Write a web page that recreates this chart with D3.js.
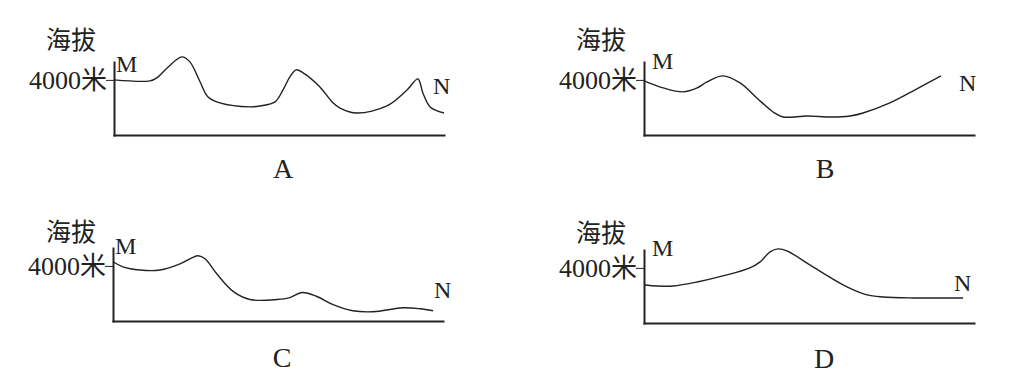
<!DOCTYPE html>
<html>
<head>
<meta charset="utf-8">
<script src="https://cdn.jsdelivr.net/npm/d3@7"></script>
<style>
body { margin: 0; background: #fff; }
svg { display: block; }
</style>
</head>
<body>
<div id="chart"></div>
<script>
// terrain profiles M -> N : [distance along section (0-100), elevation in m]
var profileA = [[0, 4000], [10.9, 3930], [13, 4150], [16.1, 4870], [20.6, 5670], [23, 5310], [26.1, 3850],
    [28.5, 2760], [32.1, 2330], [41.2, 2040], [44.2, 2110], [48.8, 2400], [51.2, 3270], [53.3, 4220],
    [55.2, 4730], [57.3, 4510], [62.4, 3490], [66.1, 2400], [68.5, 1960], [73.6, 1600], [82.7, 2110],
    [88.8, 3270], [92.1, 4070], [93.6, 3050], [95.8, 2040], [100, 1600]];
var profileB = [[0, 3930], [5.8, 3420], [11.8, 3130], [16.1, 3420], [19.1, 3850], [23.9, 4290], [29.1, 3780],
    [34.2, 2690], [39.1, 1670], [42.1, 1310], [49.4, 1380], [56.4, 1310], [62.4, 1380], [66.4, 1600],
    [74.5, 2330], [82.7, 3350], [90, 4290]];
var profileC = [[0, 4300], [3, 3930], [8.2, 3700], [14.2, 3700], [20.3, 4150], [23.9, 4590], [25.8, 4740],
    [27.9, 4520], [31.5, 3410], [36.4, 2150], [41.5, 1560], [49.7, 1560], [53.6, 1700], [57.3, 2070],
    [61.8, 1780], [66.7, 1190], [72.7, 740], [78.8, 670], [87.9, 960], [93, 890], [97, 740]];
var profileD = [[0, 2760], [3.9, 2690], [8.8, 2690], [16.1, 2980], [23.9, 3420], [32.1, 4000], [35.2, 4440],
    [38.2, 5160], [40.6, 5380], [43.3, 5240], [51.2, 4070], [61.5, 2620], [67.6, 2040], [72.4, 1890],
    [81.5, 1820], [96.7, 1820]];

var panelNames = ["A", "B", "C", "D"];
var axisTitle = "海拔";
var tickValues = [4000];
var tickLabel = "4000米";
var endLabels = ["M", "N"];

var ink = "#222";
var serif = "'Liberation Serif', 'Noto Sans CJK SC', serif";
var cjk = "'Noto Sans CJK SC', sans-serif";

var svg = d3.select("#chart").append("svg")
    .attr("width", 1027)
    .attr("height", 392);

var panels = [
    {data: profileA, axisX: 114, bottom: 135, titleX: 46, titleY: 49, mX: 116, mY: 72, nX: 433, nY: 94, nameX: 283, nameY: 178},
    {data: profileB, axisX: 644, bottom: 135, titleX: 576, titleY: 49, mX: 652, mY: 69, nX: 959, nY: 91, nameX: 825, nameY: 178},
    {data: profileC, axisX: 113, bottom: 321, titleX: 46, titleY: 241, mX: 115, mY: 254, nX: 434, nY: 298, nameX: 282, nameY: 367},
    {data: profileD, axisX: 644, bottom: 323, titleX: 576, titleY: 242, mX: 652, mY: 256, nX: 954, nY: 291, nameX: 824, nameY: 368}
];

panels.forEach(function (p, i) {
    var x = d3.scaleLinear().domain([0, 100]).range([p.axisX, p.axisX + 330]);
    var y = d3.scaleLinear().domain([0, 5300]).range([p.bottom, p.bottom - 73]);

    var g = svg.append("g").attr("class", "panel");

    // distance axis (no ticks)
    g.append("g")
        .attr("transform", "translate(0," + p.bottom + ")")
        .call(d3.axisBottom(x).tickValues([]).tickSizeOuter(0));

    // elevation axis, one tick at 4000
    var yAxis = g.append("g")
        .attr("transform", "translate(" + p.axisX + ",0)")
        .call(d3.axisLeft(y)
            .tickValues(tickValues)
            .tickSize(8)
            .tickPadding(-1)
            .tickSizeOuter(0)
            .tickFormat(function () { return tickLabel; }));

    g.selectAll(".domain")
        .attr("stroke", ink)
        .attr("stroke-width", 2)
        .attr("stroke-linecap", "square");
    yAxis.selectAll(".tick line").attr("stroke", ink).attr("stroke-width", 1);
    yAxis.selectAll(".tick text")
        .attr("fill", ink)
        .style("font-family", serif)
        .style("font-size", "26px");

    // profile line
    var line = d3.line()
        .x(function (d) { return x(d[0]); })
        .y(function (d) { return y(d[1]); })
        .curve(d3.curveCatmullRom.alpha(0.5));

    g.append("path")
        .datum(p.data)
        .attr("d", line)
        .attr("fill", "none")
        .attr("stroke", ink)
        .attr("stroke-width", 1.4)
        .attr("stroke-linejoin", "round");

    g.append("text")
        .attr("x", p.titleX)
        .attr("y", p.titleY)
        .style("font-family", cjk)
        .style("font-size", "25px")
        .attr("fill", ink)
        .text(axisTitle);

    g.append("text")
        .attr("x", p.mX)
        .attr("y", p.mY)
        .style("font-family", serif)
        .style("font-size", "24px")
        .attr("fill", ink)
        .text(endLabels[0]);

    g.append("text")
        .attr("x", p.nX)
        .attr("y", p.nY)
        .style("font-family", serif)
        .style("font-size", "24px")
        .attr("fill", ink)
        .text(endLabels[1]);

    g.append("text")
        .attr("x", p.nameX)
        .attr("y", p.nameY)
        .attr("text-anchor", "middle")
        .style("font-family", serif)
        .style("font-size", "28px")
        .attr("fill", ink)
        .text(panelNames[i]);
});
</script>
</body>
</html>
